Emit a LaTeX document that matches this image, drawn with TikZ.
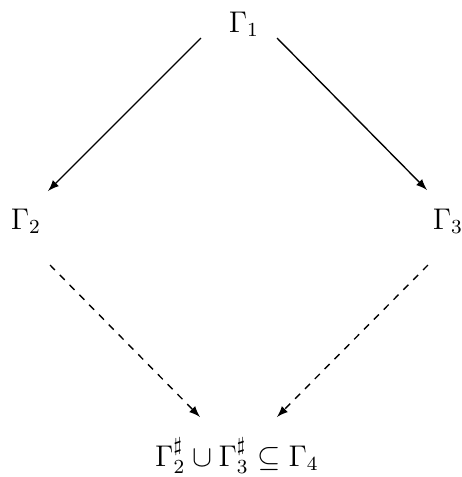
\documentclass[tikz,border=0pt]{standalone}
\usepackage{amsmath}
\usepackage{amssymb}
\usepackage{tikz}
\usetikzlibrary{arrows, positioning}

\begin{document}
\begin{tikzpicture}[
    x=0.0141cm, y=-0.0141cm,
    obj/.style={inner sep=2pt, anchor=base, font=\large},
    map/.style={-latex, line width=0.55pt},
    lift/.style={-latex, line width=0.55pt, dash pattern=on 2.8pt off 2.8pt}
]
\useasboundingbox (0,0) rectangle (462,477);
\node[obj] (g1) at (244,32) {$\Gamma_1$};
\node[obj] (g2) at (26,229) {$\Gamma_2$};
\node[obj] (g3) at (448,229) {$\Gamma_3$};
\node[obj] (g4) at (237,466) {$\Gamma_2^\sharp \cup \Gamma_3^\sharp \subseteq \Gamma_4$};
\draw[map] ([shift={(-43,6)}]g1.base) -- ([shift={(22,-38)}]g2.base);
\draw[map] ([shift={(33,6)}]g1.base) -- ([shift={(-21,-39)}]g3.base);
\draw[lift] ([shift={(24,36)}]g2.base) -- ([shift={(-37,-49)}]g4.base);
\draw[lift] ([shift={(-20,36)}]g3.base) -- ([shift={(40,-49)}]g4.base);
\end{tikzpicture}
\end{document}
